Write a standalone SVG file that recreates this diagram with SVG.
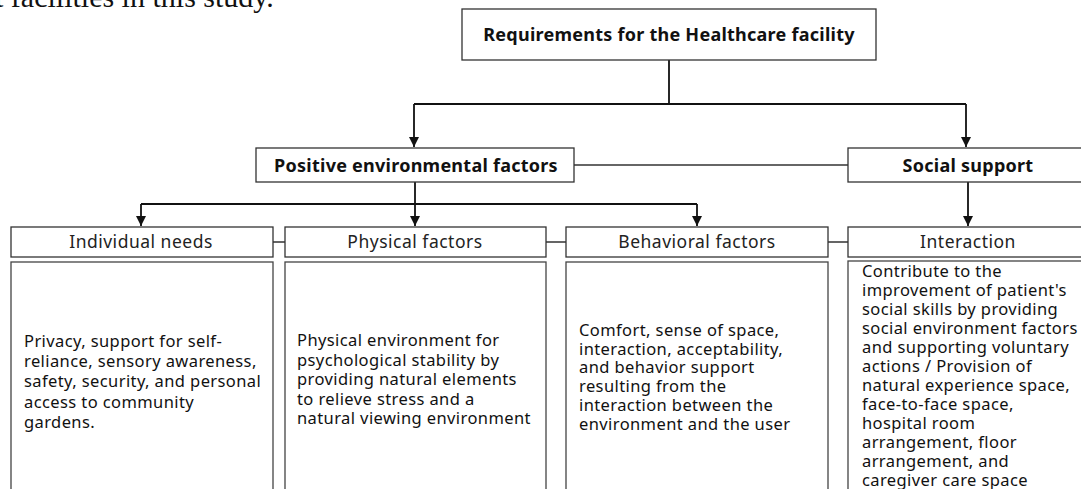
<svg xmlns="http://www.w3.org/2000/svg" width="1081" height="489" viewBox="0 0 1081 489">
<style>
.box{fill:#fff;stroke:#333;stroke-width:1.3}
.cbox{fill:#fff;stroke:#444;stroke-width:1.3}
.b{font-family:"Noto Sans",sans-serif;font-weight:bold;font-size:18px;letter-spacing:0.25px;fill:#111;text-anchor:middle}
.h{font-family:"Noto Sans",sans-serif;font-size:17.5px;letter-spacing:0.5px;fill:#222;text-anchor:middle}
.t{font-family:"Noto Sans",sans-serif;font-size:16.5px;letter-spacing:0.4px;fill:#111}
.c{fill:none;stroke:#111;stroke-width:1.8}
.l{fill:none;stroke:#333;stroke-width:1.3}
</style>
<defs>
<marker id="a" markerWidth="11" markerHeight="10" refX="10" refY="5" orient="auto" markerUnits="userSpaceOnUse" viewBox="0 0 11 10">
<path d="M0,0 L10,5 L0,10 Z" fill="#111"/>
</marker>
</defs>
<text x="-5" y="7" font-family="Liberation Serif, serif" font-size="30" fill="#111">t facilities in this study.</text>
<g id="connectors">
<path class="c" d="M669,60 V104"/>
<path class="c" d="M414,104 H966"/>
<path class="c" d="M414,104 V147" marker-end="url(#a)"/>
<path class="c" d="M966,104 V147" marker-end="url(#a)"/>
<path class="l" d="M574,165 H848"/>
<path class="c" d="M415,182 V204"/>
<path class="c" d="M141,204 H697"/>
<path class="c" d="M141,204 V226" marker-end="url(#a)"/>
<path class="c" d="M415,204 V226" marker-end="url(#a)"/>
<path class="c" d="M697,204 V226" marker-end="url(#a)"/>
<path class="c" d="M968,182 V226" marker-end="url(#a)"/>
<path class="l" d="M273,242 H285 M546,242 H566 M828,242 H848"/>
</g>
<g id="root">
<rect class="box" x="462" y="9" width="414" height="51"/>
<text class="b" x="669" y="41">Requirements for the Healthcare facility</text>
</g>
<g id="positive">
<rect class="box" x="256" y="148" width="318" height="34"/>
<text class="b" x="416" y="172">Positive environmental factors</text>
</g>
<g id="social">
<rect class="box" x="848" y="148" width="240" height="34"/>
<text class="b" x="968" y="172">Social support</text>
</g>
<g id="individual">
<rect class="box" x="11" y="227" width="262" height="30"/>
<text class="h" x="141" y="248">Individual needs</text>
<rect class="cbox" x="11" y="262" width="262" height="240"/>
<text class="t"><tspan x="24" y="347">Privacy, support for self-</tspan><tspan x="24" y="367.2">reliance, sensory awareness,</tspan><tspan x="24" y="387.4">safety, security, and personal</tspan><tspan x="24" y="407.6">access to community</tspan><tspan x="24" y="427.8">gardens.</tspan></text>
</g>
<g id="physical">
<rect class="box" x="285" y="227" width="261" height="30"/>
<text class="h" x="415" y="248">Physical factors</text>
<rect class="cbox" x="285" y="262" width="261" height="240"/>
<text class="t"><tspan x="297" y="346">Physical environment for</tspan><tspan x="297" y="365.6">psychological stability by</tspan><tspan x="297" y="385.2">providing natural elements</tspan><tspan x="297" y="404.8">to relieve stress and a</tspan><tspan x="297" y="424.4">natural viewing environment</tspan></text>
</g>
<g id="behavioral">
<rect class="box" x="566" y="227" width="262" height="30"/>
<text class="h" x="697" y="248">Behavioral factors</text>
<rect class="cbox" x="566" y="262" width="262" height="240"/>
<text class="t"><tspan x="579" y="336">Comfort, sense of space,</tspan><tspan x="579" y="354.7">interaction, acceptability,</tspan><tspan x="579" y="373.4">and behavior support</tspan><tspan x="579" y="392.1">resulting from the</tspan><tspan x="579" y="410.8">interaction between the</tspan><tspan x="579" y="429.5">environment and the user</tspan></text>
</g>
<g id="interaction">
<rect class="box" x="848" y="227" width="240" height="30"/>
<text class="h" x="968" y="248">Interaction</text>
<rect class="cbox" x="848" y="261" width="240" height="240"/>
<text class="t"><tspan x="862" y="277">Contribute to the</tspan><tspan x="862" y="296">improvement of patient's</tspan><tspan x="862" y="315">social skills by providing</tspan><tspan x="862" y="334">social environment factors</tspan><tspan x="862" y="353">and supporting voluntary</tspan><tspan x="862" y="372">actions / Provision of</tspan><tspan x="862" y="391">natural experience space,</tspan><tspan x="862" y="410">face-to-face space,</tspan><tspan x="862" y="429">hospital room</tspan><tspan x="862" y="448">arrangement, floor</tspan><tspan x="862" y="467">arrangement, and</tspan><tspan x="862" y="486">caregiver care space</tspan></text>
</g>
</svg>
